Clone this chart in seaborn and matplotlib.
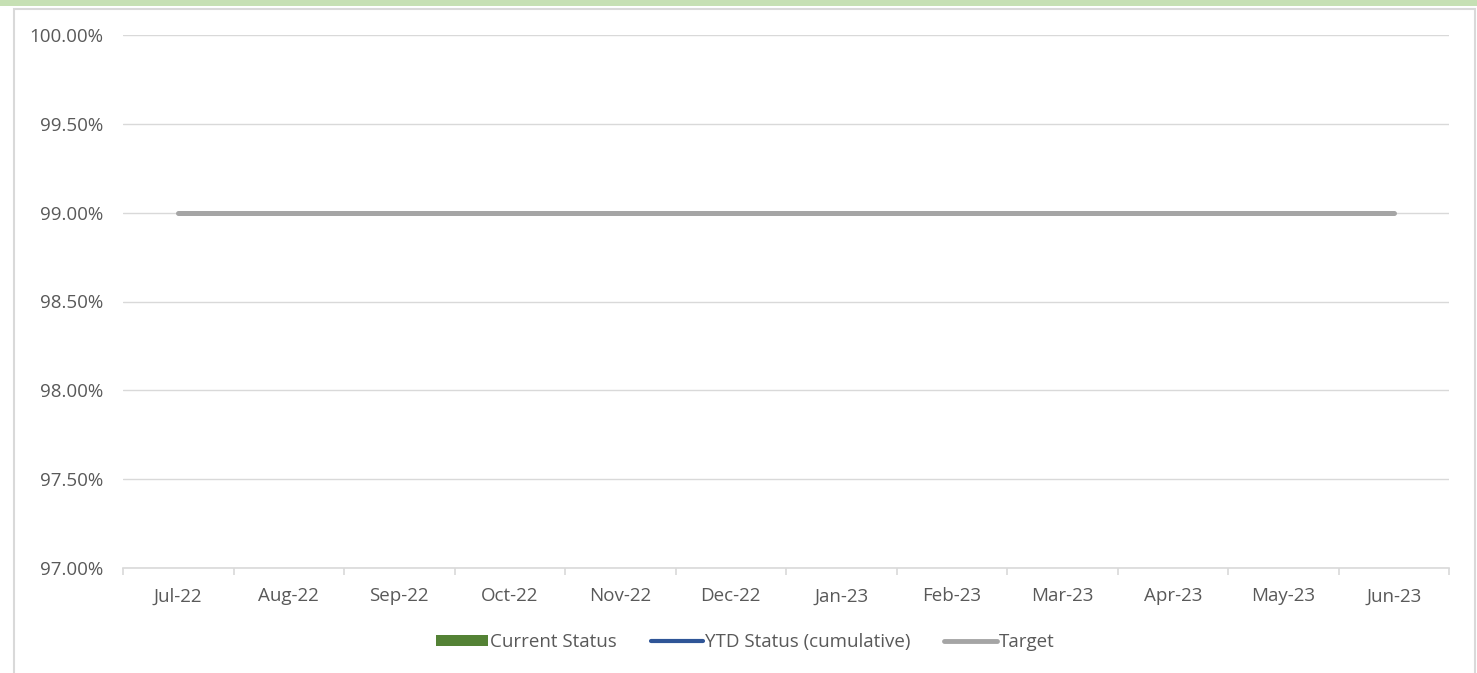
import numpy as np
import matplotlib
matplotlib.use("Agg")
import matplotlib.pyplot as plt
import seaborn as sns
from matplotlib.patches import Rectangle
from matplotlib.lines import Line2D

months = ["Jul-22", "Aug-22", "Sep-22", "Oct-22", "Nov-22", "Dec-22",
          "Jan-23", "Feb-23", "Mar-23", "Apr-23", "May-23", "Jun-23"]
current_status = [np.nan] * 12   # no values shown in the chart
ytd_status = [np.nan] * 12
target = [0.99] * 12

sns.set_theme(style="white")
plt.rcParams['font.family'] = ['Open Sans', 'DejaVu Sans']

text_color = "#595959"
grid_color = "#d9d9d9"
fs = 13.5

fig = plt.figure(figsize=(14.77, 6.73), dpi=100)
fig.patch.set_facecolor("white")

# green strip at the top and the chart frame
fig.patches.append(Rectangle((0, 1 - 6 / 673), 1, 6 / 673, transform=fig.transFigure,
                             facecolor="#c6e0b4", edgecolor="none", zorder=0))
fig.patches.append(Rectangle((14 / 1477, -0.05), 1461 / 1477, 1 - 9.5 / 673 + 0.05,
                             transform=fig.transFigure, facecolor="none",
                             edgecolor=grid_color, linewidth=1.5, zorder=0))

ax = fig.add_axes([123 / 1477, 1 - 568 / 673, (1449 - 123) / 1477, (568 - 35) / 673])
x = np.arange(len(months))

ax.bar(x, current_status, width=0.6, color="#548235")
sns.lineplot(x=x, y=ytd_status, ax=ax, color="#2f5597", linewidth=2.5)
sns.lineplot(x=x, y=target, ax=ax, color="#a5a5a5", linewidth=3.6,
             solid_capstyle="round")

ax.set_xlim(-0.5, len(months) - 0.5)
ax.set_ylim(0.97, 1.0)
yt = np.arange(0.97, 1.0001, 0.005)
ax.set_yticks(yt)
ax.set_yticklabels([f"{v * 100:.2f}%" for v in yt], color=text_color, fontsize=fs)
ax.set_xticks(x)
ax.set_xticklabels(months, color=text_color, fontsize=fs)
ax.set_xticks(np.arange(-0.5, len(months)), minor=True)
ax.tick_params(axis="x", which="major", length=0, pad=14)
ax.tick_params(axis="x", which="minor", bottom=True, length=5, color=grid_color,
               width=1.2, direction="out")
ax.tick_params(axis="y", length=0, pad=14)
ax.grid(axis="y", color=grid_color, linewidth=1)
ax.set_axisbelow(True)
for side in ["left", "right", "top"]:
    ax.spines[side].set_visible(False)
ax.spines["bottom"].set_color(grid_color)
ax.spines["bottom"].set_linewidth(1.2)
ax.set_xlabel("")
ax.set_ylabel("")

handles = [
    Rectangle((0, 0), 1, 1, facecolor="#548235", edgecolor="none"),
    Line2D([], [], color="#2f5597", linewidth=3),
    Line2D([], [], color="#a5a5a5", linewidth=3.5),
]
labels = ["Current Status", "YTD Status (cumulative)", "Target"]
leg = fig.legend(handles, labels, loc="center", bbox_to_anchor=(745 / 1477, 1 - 642 / 673),
                 ncol=3, frameon=False, fontsize=fs, handlelength=2.8, handleheight=0.5,
                 handletextpad=0.1, columnspacing=1.8)
for t in leg.get_texts():
    t.set_color(text_color)

fig.savefig("out.png", dpi=100)
